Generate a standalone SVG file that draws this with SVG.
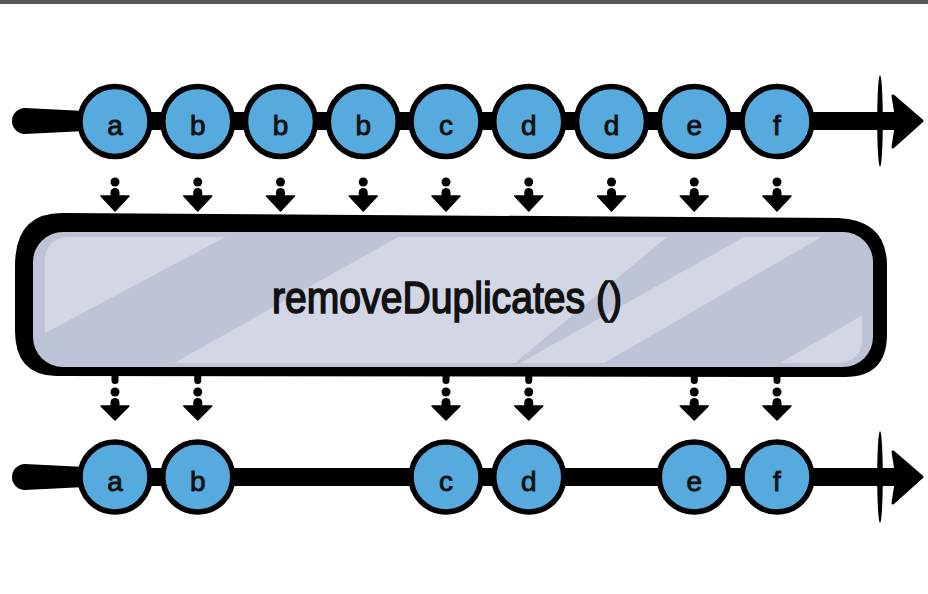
<svg xmlns="http://www.w3.org/2000/svg" width="928" height="594" viewBox="0 0 928 594">
<style>
.node circle{fill:#56aadd;stroke:#000;stroke-width:5.5}
.lbl{font-family:"Liberation Sans",Arial,sans-serif;font-size:28px;fill:#111;text-anchor:middle;stroke:#111;stroke-width:0.9}
.title{font-family:"Liberation Sans",Arial,sans-serif;font-size:45px;fill:#111;text-anchor:middle;stroke:#111;stroke-width:1.6}
.tl{stroke:#000;stroke-width:18;stroke-linecap:round;fill:none}
.blk{fill:#000}
</style>
<defs>
<g id="arrTop">
<circle cx="0" cy="182" r="4.5"/>
<rect x="-4.5" y="188" width="9" height="11" rx="4.5"/>
<polygon points="-14,196 14,196 0,211" stroke="#000" stroke-width="1.5" stroke-linejoin="round"/>
</g>
<g id="arrBot">
<rect x="-3.5" y="372" width="7" height="12" rx="3.5"/>
<circle cx="0" cy="392" r="4.5"/>
<rect x="-4.5" y="398" width="9" height="11" rx="4.5"/>
<polygon points="-14,406 14,406 0,420" stroke="#000" stroke-width="1.5" stroke-linejoin="round"/>
</g>
<clipPath id="boxclip"><rect x="45" y="237" width="817" height="126" rx="22"/></clipPath>
</defs>
<rect x="0" y="0" width="928" height="4" fill="#5a5a5a"/>

<g id="connectors" class="blk">
<line class="tl" x1="60" y1="121" x2="900" y2="121"/>
<path d="M25,108 L85,111 L85,131 L25,134 A13,13 0 0 1 25,108 Z"/>
<ellipse cx="880" cy="121" rx="2.8" ry="46"/>
<polygon points="893,96 922,121 893,147 897,121" stroke="#000" stroke-width="3" stroke-linejoin="round"/>
<line class="tl" x1="60" y1="477" x2="900" y2="477"/>
<path d="M25,464 L85,467 L85,487 L25,490 A13,13 0 0 1 25,464 Z"/>
<ellipse cx="880" cy="477" rx="2.8" ry="46"/>
<polygon points="893,452 922,477 893,503 897,477" stroke="#000" stroke-width="3" stroke-linejoin="round"/>
<use href="#arrTop" x="115"/>
<use href="#arrTop" x="197.75"/>
<use href="#arrTop" x="280.5"/>
<use href="#arrTop" x="363.25"/>
<use href="#arrTop" x="446"/>
<use href="#arrTop" x="528.75"/>
<use href="#arrTop" x="611.5"/>
<use href="#arrTop" x="694.25"/>
<use href="#arrTop" x="777"/>
<use href="#arrBot" x="115"/>
<use href="#arrBot" x="197.75"/>
<use href="#arrBot" x="446"/>
<use href="#arrBot" x="528.75"/>
<use href="#arrBot" x="694.25"/>
<use href="#arrBot" x="777"/>
</g>

<g id="operator">
<path d="M62,213 L838,218 Q887,220 887,266 L887,334 Q887,377 845,377 L56,376 Q15,375 15,331 L15,266 Q15,213 62,213 Z" fill="#000"/>
<rect x="33" y="232" width="840" height="135" rx="30" fill="#bec3d8"/>
<g clip-path="url(#boxclip)" fill="#d3d7e5">
<polygon points="30,232 235,232 30,341"/>
<polygon points="407,232 673,232 510,367 167,367"/>
<polygon points="753,232 830,232 597,367 513,367"/>
<polygon points="880,305 880,367 773,367"/>
</g>
<text class="title" x="447" y="313" textLength="350" lengthAdjust="spacingAndGlyphs">removeDuplicates ()</text>
</g>

<g id="in-a" class="node"><circle cx="115" cy="121.5" r="35"/><text class="lbl" x="115" y="135">a</text></g>
<g id="in-b1" class="node"><circle cx="197.75" cy="121.5" r="35"/><text class="lbl" x="197.75" y="135">b</text></g>
<g id="in-b2" class="node"><circle cx="280.5" cy="121.5" r="35"/><text class="lbl" x="280.5" y="135">b</text></g>
<g id="in-b3" class="node"><circle cx="363.25" cy="121.5" r="35"/><text class="lbl" x="363.25" y="135">b</text></g>
<g id="in-c" class="node"><circle cx="446" cy="121.5" r="35"/><text class="lbl" x="446" y="135">c</text></g>
<g id="in-d1" class="node"><circle cx="528.75" cy="121.5" r="35"/><text class="lbl" x="528.75" y="135">d</text></g>
<g id="in-d2" class="node"><circle cx="611.5" cy="121.5" r="35"/><text class="lbl" x="611.5" y="135">d</text></g>
<g id="in-e" class="node"><circle cx="694.25" cy="121.5" r="35"/><text class="lbl" x="694.25" y="135">e</text></g>
<g id="in-f" class="node"><circle cx="777" cy="121.5" r="35"/><text class="lbl" x="777" y="135">f</text></g>

<g id="out-a" class="node"><circle cx="115" cy="477" r="35"/><text class="lbl" x="115" y="491">a</text></g>
<g id="out-b" class="node"><circle cx="197.75" cy="477" r="35"/><text class="lbl" x="197.75" y="491">b</text></g>
<g id="out-c" class="node"><circle cx="446" cy="477" r="35"/><text class="lbl" x="446" y="491">c</text></g>
<g id="out-d" class="node"><circle cx="528.75" cy="477" r="35"/><text class="lbl" x="528.75" y="491">d</text></g>
<g id="out-e" class="node"><circle cx="694.25" cy="477" r="35"/><text class="lbl" x="694.25" y="491">e</text></g>
<g id="out-f" class="node"><circle cx="777" cy="477" r="35"/><text class="lbl" x="777" y="491">f</text></g>
</svg>
